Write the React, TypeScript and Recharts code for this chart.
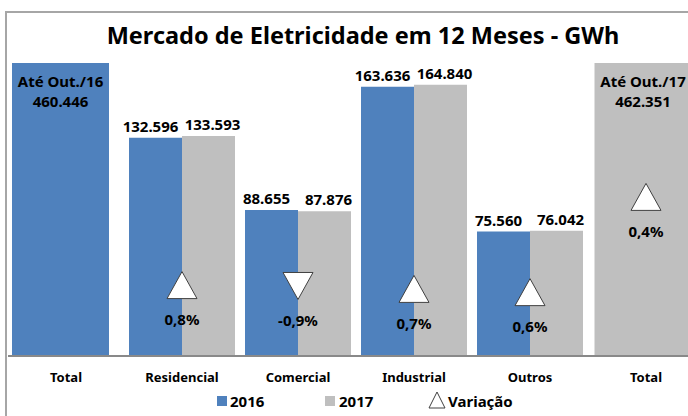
import { ComposedChart, Bar, Line, XAxis, YAxis, Cell, LabelList } from "recharts";

const categorias = ["Total", "Residencial", "Comercial", "Industrial", "Outros", "Total"];
const consumo2016 = [null, 132596, 88655, 163636, 75560, null];
const consumo2017 = [null, 133593, 87876, 164840, 76042, null];
const totais = [460446, null, null, null, null, 462351];
const rotulosTotais = ["Até Out./16", "", "", "", "", "Até Out./17"];
const variacao = [null, 0.8, -0.9, 0.7, 0.6, 0.4];
// altura do marcador no eixo secundário (0-100)
const alturaVariacao = [null, 24.2, 23.9, 22.9, 21.8, 54.3];

const AZUL = "#4f81bd";
const CINZA = "#bfbfbf";
const FONTE = "'Noto Sans', 'Open Sans', sans-serif";
const TOPO = 63;

const dados = categorias.map((categoria, i) => ({
  categoria,
  v2016: consumo2016[i],
  v2017: consumo2017[i],
  total: totais[i],
  altura: alturaVariacao[i],
}));

const milhar = (v: number) => String(v).replace(/\B(?=(\d{3})+(?!\d))/g, ".");
const pct = (v: number) => v.toFixed(1).replace(".", ",") + "%";

const rotuloValor = (dx: number) => (props: any) => {
  const { x, y, width, value } = props;
  if (value == null) return null;
  return (
    <text x={x + width / 2 + dx} y={y - 6} textAnchor="middle" fontFamily={FONTE} fontWeight="bold" fontSize={15} fill="#000">
      {milhar(value)}
    </text>
  );
};

const RotuloTotal = (props: any) => {
  const { x, width, value } = props;
  if (value == null) return null;
  const i = totais.indexOf(Number(value));
  const cx = x + width / 2;
  return (
    <g>
      <text x={cx} y={TOPO + 24} textAnchor="middle" fontFamily={FONTE} fontWeight="bold" fontSize={15} fill="#000">
        {rotulosTotais[i]}
      </text>
      <text x={cx} y={TOPO + 44} textAnchor="middle" fontFamily={FONTE} fontWeight="bold" fontSize={15} fill="#000">
        {milhar(Number(value))}
      </text>
    </g>
  );
};

const MarcadorVariacao = (props: any) => {
  const { cx, cy, index } = props;
  const v = variacao[index];
  if (v == null || cy == null || isNaN(cy)) return <g key={"m" + index} />;
  const w = 15;
  const h = 13.5;
  const pts =
    v >= 0
      ? `${cx},${cy - h} ${cx - w},${cy + h} ${cx + w},${cy + h}`
      : `${cx - w},${cy - h} ${cx + w},${cy - h} ${cx},${cy + h}`;
  return (
    <g key={"m" + index}>
      <polygon points={pts} fill="#fff" stroke="#404040" strokeWidth={1} />
      <text x={cx} y={cy + 40} textAnchor="middle" fontFamily={FONTE} fontWeight="bold" fontSize={15} fill="#000">
        {pct(v)}
      </text>
    </g>
  );
};

export default function App() {
  return (
    <div style={{ position: "absolute", left: 0, top: 0, width: 688, height: 416, overflow: "hidden", background: "#fff" }}>
      <div
        style={{
          position: "absolute",
          left: 5,
          top: 11,
          width: 720,
          height: 500,
          borderLeft: "2px solid #a6a6a6",
          borderTop: "2px solid #a6a6a6",
        }}
      />
      <div style={{ position: "absolute", left: 0, top: 0 }}>
        <ComposedChart
          width={710}
          height={416}
          data={dados}
          margin={{ top: TOPO, right: 6, bottom: 30, left: 8 }}
          barCategoryGap={5}
          barGap={0}
        >
          <XAxis
            dataKey="categoria"
            interval={0}
            height={30}
            tickLine={false}
            tickSize={0}
            tickMargin={17}
            axisLine={{ stroke: "#898989", strokeWidth: 2 }}
            tick={{ fontFamily: FONTE, fontWeight: "bold", fontSize: 13, fill: "#000" }}
          />
          <XAxis xAxisId="tot" dataKey="categoria" hide padding={{ left: -6, right: 3 }} />
          <YAxis hide domain={[0, 178000]} allowDataOverflow />
          <YAxis yAxisId="var" hide domain={[0, 100]} />
          <Bar xAxisId="tot" dataKey="total" barSize={97} isAnimationActive={false}>
            {dados.map((d, i) => (
              <Cell key={i} fill={i === 0 ? AZUL : CINZA} />
            ))}
            <LabelList dataKey="total" content={RotuloTotal} />
          </Bar>
          <Bar dataKey="v2016" fill={AZUL} isAnimationActive={false}>
            <LabelList dataKey="v2016" content={rotuloValor(-5)} />
          </Bar>
          <Bar dataKey="v2017" fill={CINZA} isAnimationActive={false}>
            <LabelList dataKey="v2017" content={rotuloValor(4)} />
          </Bar>
          <Line
            yAxisId="var"
            dataKey="altura"
            stroke="none"
            dot={MarcadorVariacao}
            activeDot={false}
            isAnimationActive={false}
          />
        </ComposedChart>
      </div>
      <svg width={688} height={416} style={{ position: "absolute", left: 0, top: 0 }}>
        <text x={363} y={44} textAnchor="middle" fontFamily={FONTE} fontWeight="bold" fontSize={23.5} fill="#000">
          Mercado de Eletricidade em 12 Meses - GWh
        </text>
        <rect x={217} y={396} width={10} height={10} fill={AZUL} />
        <text x={230} y={407} fontFamily={FONTE} fontWeight="bold" fontSize={15} fill="#000">2016</text>
        <rect x={325} y={396} width={10} height={10} fill={CINZA} />
        <text x={339} y={407} fontFamily={FONTE} fontWeight="bold" fontSize={15} fill="#000">2017</text>
        <polygon points="437,392 429,408 445,408" fill="#fff" stroke="#404040" strokeWidth={1} />
        <text x={448} y={407} fontFamily={FONTE} fontWeight="bold" fontSize={15} fill="#000">Variação</text>
      </svg>
    </div>
  );
}
